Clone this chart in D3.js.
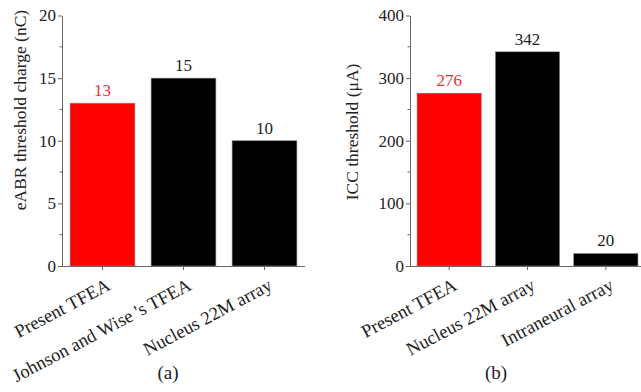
<!DOCTYPE html>
<html>
<head>
<meta charset="utf-8">
<script src="https://cdn.jsdelivr.net/npm/d3@7"></script>
<style>
  body { margin: 0; background: #fff; }
  text { font-family: "Liberation Serif", "Times New Roman", serif; }
  .axis path, .axis line { stroke: #666; }
</style>
</head>
<body>
<div class="chart-box"></div>
<script>
// panel (a)
let catsA = ["Present TFEA", "Johnson and Wise 's TFEA", "Nucleus 22M array"];
let valsA = [13, 15, 10];
let colorsA = ["#ff0000", "#000", "#000"];
let ticksA = [0, 5, 10, 15, 20];

// panel (b)
let catsB = ["Present TFEA", "Nucleus 22M array", "Intraneural array"];
let valsB = [276, 342, 20];
let colorsB = ["#ff0000", "#000", "#000"];
let ticksB = [0, 100, 200, 300, 400];

let width = 641, height = 392;

let svg = d3.select('.chart-box')
  .append('svg')
  .attr('width', width)
  .attr('height', height)
  .style('background', '#fff')

let drawPanel = function (opt) {
  let x = d3.scaleBand()
    .domain(opt.cats)
    .range([opt.x0, opt.x1])
    .paddingInner(opt.pad)
    .paddingOuter(opt.pad / 2);
  let y = d3.scaleLinear()
    .domain([0, opt.max])
    .range([266, 15.5]);

  let g = svg.append("g")

  // minor ticks
  let minor = d3.range(0, opt.max, opt.step / 2).filter(function (d) { return d % opt.step != 0; });
  g.selectAll(".minor")
    .data(minor)
    .enter()
    .append("line")
    .attr("x1", opt.x0 - 2.5)
    .attr("x2", opt.x0)
    .attr("y1", function (d) { return y(d); })
    .attr("y2", function (d) { return y(d); })
    .attr("stroke", "#666")

  //bars
  g.selectAll(".bar")
    .data(opt.vals)
    .enter()
    .append("rect")
    .attr("x", function (d, i) { return x(opt.cats[i]); })
    .attr("width", x.bandwidth())
    .attr("y", function (d) { return y(d); })
    .attr("height", function (d) { return y(0) - y(d); })
    .attr("fill", function (d, i) { return opt.colors[i]; })
    .attr("stroke", "#888")
    .attr("stroke-width", 0.6)

  //value labels
  g.selectAll(".val")
    .data(opt.vals)
    .enter()
    .append("text")
    .attr("x", function (d, i) { return x(opt.cats[i]) + x.bandwidth() / 2; })
    .attr("y", function (d) { return y(d) - 7; })
    .attr("text-anchor", "middle")
    .attr("font-size", 17)
    .attr("fill", function (d, i) { return i == 0 ? "#e8303a" : "#222"; })
    .text(function (d) { return d; })

  //y axis
  let yAxis = g.append("g")
    .attr("class", "axis")
    .attr("transform", "translate(" + opt.x0 + ",0)")
    .call(d3.axisLeft(y).tickValues(opt.ticks).tickSize(4).tickSizeOuter(0).tickPadding(2))
  yAxis.selectAll("text").attr("font-size", 17).attr("fill", "#222")
    .style("font-family", '"Liberation Serif", serif')

  //x axis
  let xAxis = g.append("g")
    .attr("class", "axis")
    .attr("transform", "translate(0," + y(0) + ")")
    .call(d3.axisBottom(x).tickSize(4).tickSizeOuter(0))
  xAxis.select(".domain").attr("d", "M" + (opt.x0 - 0.5) + ",0.5H" + opt.axEnd)
  xAxis.selectAll("text")
    .attr("font-size", 18.5)
    .attr("fill", "#222")
    .style("font-family", '"Liberation Serif", serif')
    .attr("text-anchor", "end")
    .attr("dy", "0")
    .attr("y", 0)
    .attr("transform", "translate(9,23) rotate(-28)")

  //axis title
  svg.append("text")
    .attr("transform", "translate(" + opt.labelX + "," + opt.labelY + ") rotate(-90)")
    .attr("text-anchor", "middle")
    .attr("font-size", 17.5)
    .attr("fill", "#222")
    .text(opt.title)

  //panel letter
  svg.append("text")
    .attr("x", opt.letterX)
    .attr("y", 379)
    .attr("text-anchor", "middle")
    .attr("font-size", 19)
    .attr("fill", "#222")
    .text(opt.letter)
}

drawPanel({
  cats: catsA, vals: valsA, colors: colorsA, ticks: ticksA,
  max: 20, step: 5, x0: 62, x1: 305, pad: 0.2, axEnd: 305,
  labelX: 26, labelY: 110, title: "eABR threshold charge (nC)", letter: "(a)", letterX: 168
})
drawPanel({
  cats: catsB, vals: valsB, colors: colorsB, ticks: ticksB,
  max: 400, step: 100, x0: 410, x1: 645, pad: 0.18, axEnd: 641,
  labelX: 358, labelY: 132, title: "ICC threshold (\u03bcA)", letter: "(b)", letterX: 496
})
</script>
</body>
</html>
